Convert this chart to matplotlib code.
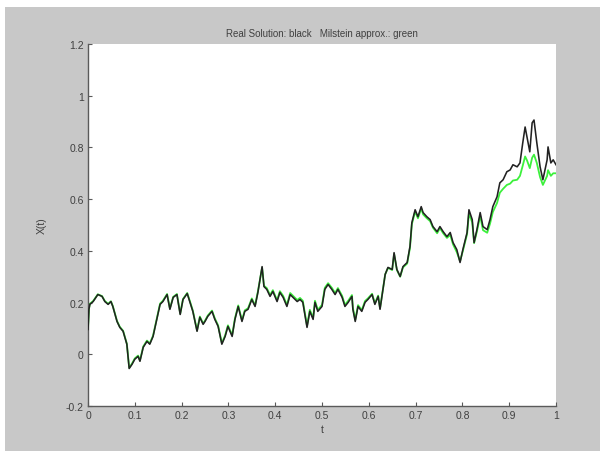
import matplotlib.pyplot as plt
from matplotlib.patches import Rectangle
from matplotlib.ticker import FuncFormatter

# sample times and the two solution paths
t = [0.000, 0.002, 0.004, 0.011, 0.021, 0.030, 0.036, 0.043, 0.049, 0.053,
     0.062, 0.068, 0.075, 0.083, 0.088, 0.094, 0.100, 0.107, 0.111, 0.118,
     0.126, 0.132, 0.139, 0.147, 0.154, 0.160, 0.169, 0.175, 0.182, 0.190,
     0.197, 0.203, 0.212, 0.218, 0.224, 0.233, 0.239, 0.246, 0.250, 0.256,
     0.265, 0.271, 0.278, 0.286, 0.293, 0.299, 0.308, 0.314, 0.321, 0.329,
     0.335, 0.342, 0.350, 0.357, 0.363, 0.372, 0.376, 0.382, 0.389, 0.395,
     0.404, 0.410, 0.417, 0.425, 0.432, 0.438, 0.447, 0.453, 0.459, 0.468,
     0.474, 0.481, 0.485, 0.491, 0.500, 0.506, 0.513, 0.521, 0.528, 0.534,
     0.543, 0.549, 0.556, 0.564, 0.566, 0.571, 0.577, 0.585, 0.592, 0.598,
     0.607, 0.613, 0.620, 0.624, 0.628, 0.635, 0.641, 0.650, 0.654, 0.660,
     0.667, 0.673, 0.682, 0.688, 0.692, 0.699, 0.705, 0.712, 0.716, 0.724,
     0.731, 0.737, 0.746, 0.752, 0.759, 0.767, 0.774, 0.780, 0.788, 0.795,
     0.801, 0.810, 0.814, 0.821, 0.825, 0.831, 0.838, 0.844, 0.853, 0.859,
     0.865, 0.874, 0.880, 0.887, 0.895, 0.902, 0.908, 0.917, 0.923, 0.929,
     0.934, 0.938, 0.944, 0.949, 0.953, 0.959, 0.966, 0.972, 0.981, 0.983,
     0.989, 0.994, 1.000]

x_true = [0.096, 0.174, 0.193, 0.204, 0.231, 0.224, 0.204, 0.193, 0.204, 0.185,
          0.127, 0.104, 0.089, 0.039, -0.055, -0.039, -0.019, -0.008, -0.027, 0.027,
          0.050, 0.039, 0.069, 0.135, 0.193, 0.204, 0.231, 0.174, 0.220, 0.231,
          0.154, 0.212, 0.235, 0.201, 0.166, 0.089, 0.143, 0.116, 0.127, 0.147,
          0.166, 0.135, 0.108, 0.039, 0.069, 0.108, 0.069, 0.135, 0.185, 0.127,
          0.166, 0.174, 0.212, 0.185, 0.239, 0.339, 0.262, 0.251, 0.224, 0.243,
          0.204, 0.239, 0.220, 0.185, 0.231, 0.220, 0.204, 0.212, 0.201, 0.104,
          0.166, 0.135, 0.201, 0.166, 0.185, 0.251, 0.270, 0.251, 0.231, 0.251,
          0.220, 0.185, 0.201, 0.224, 0.174, 0.127, 0.185, 0.166, 0.201, 0.212,
          0.231, 0.193, 0.224, 0.174, 0.224, 0.309, 0.336, 0.328, 0.393, 0.328,
          0.301, 0.339, 0.355, 0.417, 0.509, 0.559, 0.532, 0.571, 0.548, 0.532,
          0.521, 0.494, 0.474, 0.494, 0.474, 0.455, 0.471, 0.432, 0.405, 0.355,
          0.405, 0.471, 0.559, 0.521, 0.432, 0.482, 0.548, 0.494, 0.482, 0.521,
          0.571, 0.609, 0.663, 0.675, 0.706, 0.713, 0.733, 0.725, 0.740, 0.818,
          0.879, 0.841, 0.783, 0.895, 0.906, 0.818, 0.725, 0.675, 0.752, 0.802,
          0.740, 0.752, 0.733]

x_milstein = [0.096, 0.176, 0.195, 0.206, 0.232, 0.225, 0.206, 0.195, 0.205, 0.187,
              0.129, 0.106, 0.091, 0.041, -0.052, -0.036, -0.016, -0.005, -0.024, 0.030,
              0.053, 0.042, 0.072, 0.138, 0.196, 0.207, 0.233, 0.177, 0.222, 0.233,
              0.157, 0.214, 0.237, 0.204, 0.169, 0.092, 0.146, 0.119, 0.130, 0.150,
              0.169, 0.139, 0.112, 0.043, 0.073, 0.112, 0.074, 0.139, 0.189, 0.131,
              0.170, 0.178, 0.216, 0.189, 0.243, 0.335, 0.265, 0.256, 0.229, 0.248,
              0.209, 0.244, 0.226, 0.191, 0.237, 0.226, 0.210, 0.218, 0.207, 0.110,
              0.172, 0.141, 0.207, 0.172, 0.191, 0.257, 0.275, 0.257, 0.237, 0.256,
              0.226, 0.191, 0.207, 0.229, 0.180, 0.133, 0.190, 0.171, 0.206, 0.216,
              0.234, 0.197, 0.227, 0.178, 0.226, 0.309, 0.334, 0.326, 0.388, 0.326,
              0.300, 0.336, 0.351, 0.412, 0.503, 0.552, 0.526, 0.564, 0.541, 0.526,
              0.515, 0.490, 0.468, 0.488, 0.468, 0.450, 0.462, 0.425, 0.395, 0.360,
              0.400, 0.465, 0.545, 0.510, 0.430, 0.475, 0.535, 0.480, 0.470, 0.505,
              0.550, 0.585, 0.625, 0.640, 0.655, 0.660, 0.672, 0.675, 0.690, 0.730,
              0.765, 0.750, 0.720, 0.760, 0.772, 0.740, 0.685, 0.655, 0.690, 0.712,
              0.690, 0.700, 0.700]

x_ticks = [0, 0.1, 0.2, 0.3, 0.4, 0.5, 0.6, 0.7, 0.8, 0.9, 1]
y_ticks = [-0.2, 0, 0.2, 0.4, 0.6, 0.8, 1, 1.2]

text_color = '#404040'
axis_color = '#5a5a5a'
plt.rcParams['font.family'] = ['Liberation Sans', 'DejaVu Sans']

fig = plt.figure(figsize=(6.0, 4.52), dpi=100, facecolor='white')
# grey window area, leaving a thin white margin on the top and left
fig.patches.append(Rectangle((5 / 600, 0), 1, 1 - 8 / 452, transform=fig.transFigure,
                             facecolor='#c8c8c8', edgecolor='none', zorder=-1))

ax = fig.add_axes([88 / 600, 45 / 452, 468 / 600, 362 / 452])
ax.set_facecolor('white')

ax.plot(t, x_milstein, color='#3cf03c', linewidth=1.3, zorder=2)
ax.plot(t, x_true, color='#222222', linewidth=1.15, zorder=3)

ax.set_xlim(0, 1)
ax.set_ylim(-0.2, 1.2)
ax.set_xticks(x_ticks)
ax.set_yticks(y_ticks)
ax.xaxis.set_major_formatter(FuncFormatter(lambda v, _: f'{v:g}'))
ax.yaxis.set_major_formatter(FuncFormatter(lambda v, _: f'{v:g}'))
ax.tick_params(direction='in', length=3, width=0.8, color=axis_color,
               labelsize=7.5, labelcolor=text_color, pad=3)

for side in ['top', 'right']:
    ax.spines[side].set_visible(False)
for side in ['left', 'bottom']:
    ax.spines[side].set_color(axis_color)
    ax.spines[side].set_linewidth(1.0)

ax.set_title('Real Solution: black   Milstein approx.: green', fontsize=7,
             color=text_color, pad=6)
ax.set_xlabel('t', fontsize=7.5, color=text_color, labelpad=3)
ax.set_ylabel('X(t)', fontsize=7.5, color=text_color, labelpad=14)

fig.savefig('out.png', dpi=100, facecolor=fig.get_facecolor())
